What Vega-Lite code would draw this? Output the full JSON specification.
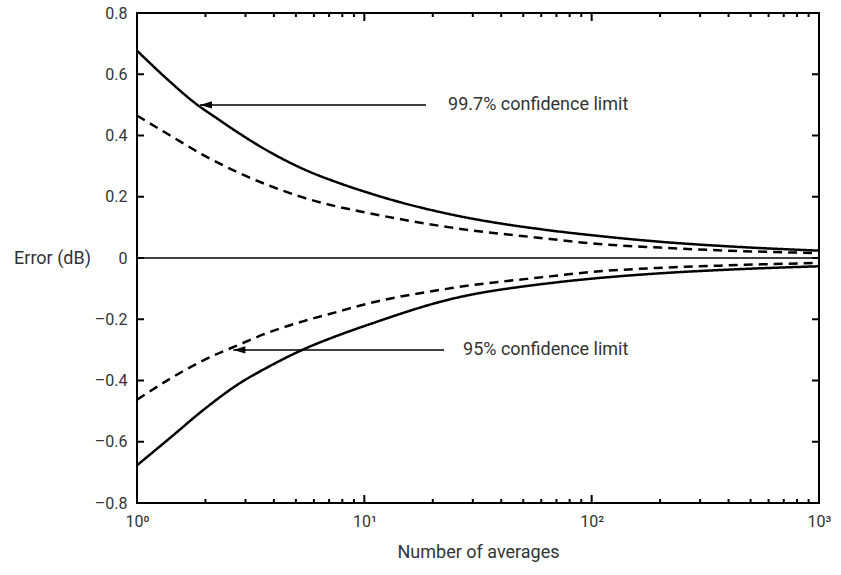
{
  "$schema": "https://vega.github.io/schema/vega-lite/v6.json",
  "width": 682,
  "height": 490,
  "autosize": {"type": "none"},
  "padding": {"left": 137, "top": 13, "right": 22, "bottom": 72},
  "background": "white",
  "config": {
    "font": "Roboto",
    "view": {"stroke": "black", "strokeWidth": 2},
    "axis": {"grid": false, "domain": false, "ticks": false, "tickSize": 0, "labelColor": "#333333", "titleColor": "#333333", "labelFont": "Roboto", "titleFont": "Roboto", "labelFontSize": 16, "titleFontSize": 18, "titleFontWeight": "normal"},
    "tick": {"color": "black", "opacity": 1, "thickness": 2}
  },
  "datasets": {
    "curves": [
      {"n": 1, "v": 0.677, "series": "u997", "conf": "99.7"},
      {"n": 1.4, "v": 0.575, "series": "u997", "conf": "99.7"},
      {"n": 1.75, "v": 0.513, "series": "u997", "conf": "99.7"},
      {"n": 2.32, "v": 0.449, "series": "u997", "conf": "99.7"},
      {"n": 2.75, "v": 0.412, "series": "u997", "conf": "99.7"},
      {"n": 3.86, "v": 0.345, "series": "u997", "conf": "99.7"},
      {"n": 5.41, "v": 0.29, "series": "u997", "conf": "99.7"},
      {"n": 7.59, "v": 0.247, "series": "u997", "conf": "99.7"},
      {"n": 10.3, "v": 0.214, "series": "u997", "conf": "99.7"},
      {"n": 14.4, "v": 0.182, "series": "u997", "conf": "99.7"},
      {"n": 23.8, "v": 0.143, "series": "u997", "conf": "99.7"},
      {"n": 65.6, "v": 0.09, "series": "u997", "conf": "99.7"},
      {"n": 98.4, "v": 0.075, "series": "u997", "conf": "99.7"},
      {"n": 200, "v": 0.053, "series": "u997", "conf": "99.7"},
      {"n": 400, "v": 0.038, "series": "u997", "conf": "99.7"},
      {"n": 1000, "v": 0.024, "series": "u997", "conf": "99.7"},
      {"n": 1, "v": -0.677, "series": "l997", "conf": "99.7"},
      {"n": 1.4, "v": -0.587, "series": "l997", "conf": "99.7"},
      {"n": 1.96, "v": -0.496, "series": "l997", "conf": "99.7"},
      {"n": 2.75, "v": -0.415, "series": "l997", "conf": "99.7"},
      {"n": 3.86, "v": -0.352, "series": "l997", "conf": "99.7"},
      {"n": 5.41, "v": -0.298, "series": "l997", "conf": "99.7"},
      {"n": 7.59, "v": -0.254, "series": "l997", "conf": "99.7"},
      {"n": 10.3, "v": -0.219, "series": "l997", "conf": "99.7"},
      {"n": 23.8, "v": -0.135, "series": "l997", "conf": "99.7"},
      {"n": 65.6, "v": -0.082, "series": "l997", "conf": "99.7"},
      {"n": 98.4, "v": -0.068, "series": "l997", "conf": "99.7"},
      {"n": 200, "v": -0.05, "series": "l997", "conf": "99.7"},
      {"n": 400, "v": -0.038, "series": "l997", "conf": "99.7"},
      {"n": 1000, "v": -0.027, "series": "l997", "conf": "99.7"},
      {"n": 1, "v": 0.465, "series": "u95", "conf": "95"},
      {"n": 1.4, "v": 0.4, "series": "u95", "conf": "95"},
      {"n": 1.96, "v": 0.336, "series": "u95", "conf": "95"},
      {"n": 2.75, "v": 0.281, "series": "u95", "conf": "95"},
      {"n": 3.86, "v": 0.235, "series": "u95", "conf": "95"},
      {"n": 5.41, "v": 0.197, "series": "u95", "conf": "95"},
      {"n": 7.59, "v": 0.168, "series": "u95", "conf": "95"},
      {"n": 9.6, "v": 0.152, "series": "u95", "conf": "95"},
      {"n": 23.8, "v": 0.1, "series": "u95", "conf": "95"},
      {"n": 65.6, "v": 0.062, "series": "u95", "conf": "95"},
      {"n": 98.4, "v": 0.048, "series": "u95", "conf": "95"},
      {"n": 200, "v": 0.034, "series": "u95", "conf": "95"},
      {"n": 400, "v": 0.024, "series": "u95", "conf": "95"},
      {"n": 1000, "v": 0.016, "series": "u95", "conf": "95"},
      {"n": 1, "v": -0.463, "series": "l95", "conf": "95"},
      {"n": 1.4, "v": -0.394, "series": "l95", "conf": "95"},
      {"n": 1.96, "v": -0.334, "series": "l95", "conf": "95"},
      {"n": 2.75, "v": -0.286, "series": "l95", "conf": "95"},
      {"n": 3.86, "v": -0.241, "series": "l95", "conf": "95"},
      {"n": 5.41, "v": -0.206, "series": "l95", "conf": "95"},
      {"n": 7.59, "v": -0.176, "series": "l95", "conf": "95"},
      {"n": 9.6, "v": -0.155, "series": "l95", "conf": "95"},
      {"n": 23.8, "v": -0.099, "series": "l95", "conf": "95"},
      {"n": 65.6, "v": -0.06, "series": "l95", "conf": "95"},
      {"n": 98.4, "v": -0.046, "series": "l95", "conf": "95"},
      {"n": 200, "v": -0.032, "series": "l95", "conf": "95"},
      {"n": 400, "v": -0.024, "series": "l95", "conf": "95"},
      {"n": 1000, "v": -0.016, "series": "l95", "conf": "95"}
    ],
    "zero": [{"n": 1, "v": 0}, {"n": 1000, "v": 0}],
    "arrows": [
      {"n1": 1.893, "n2": 18.67, "v": 0.5},
      {"n1": 2.653, "n2": 22.41, "v": -0.3}
    ],
    "labels": [
      {"n": 23.35, "v": 0.5, "text": "99.7% confidence limit"},
      {"n": 27.17, "v": -0.3, "text": "95% confidence limit"}
    ],
    "xmajor": [{"n": 1}, {"n": 10}, {"n": 100}, {"n": 1000}],
    "xminor": [{"n": 2}, {"n": 3}, {"n": 4}, {"n": 5}, {"n": 6}, {"n": 7}, {"n": 8}, {"n": 9},
      {"n": 20}, {"n": 30}, {"n": 40}, {"n": 50}, {"n": 60}, {"n": 70}, {"n": 80}, {"n": 90},
      {"n": 200}, {"n": 300}, {"n": 400}, {"n": 500}, {"n": 600}, {"n": 700}, {"n": 800}, {"n": 900}],
    "yticks": [{"v": -0.8}, {"v": -0.6}, {"v": -0.4}, {"v": -0.2}, {"v": 0}, {"v": 0.2}, {"v": 0.4}, {"v": 0.6}, {"v": 0.8}]
  },
  "layer": [
    {
      "data": {"name": "curves"},
      "mark": {"type": "line", "interpolate": "monotone", "strokeWidth": 2.5, "color": "black"},
      "encoding": {
        "x": {"field": "n", "type": "quantitative",
          "scale": {"type": "log", "domain": [1, 1000], "nice": false},
          "axis": {"orient": "bottom", "title": "Number of averages",
            "values": [1, 10, 100, 1000],
            "labelExpr": "datum.value == 1 ? '10⁰' : datum.value == 10 ? '10¹' : datum.value == 100 ? '10²' : '10³'",
            "labelFlush": false, "labelOverlap": false, "labelPadding": 10, "titlePadding": 14}},
        "y": {"field": "v", "type": "quantitative",
          "scale": {"domain": [-0.8, 0.8], "nice": false, "zero": false},
          "axis": {"orient": "left", "title": "Error (dB)",
            "values": [-0.8,-0.6,-0.4,-0.2,0,0.2,0.4,0.6,0.8],
            "labelExpr": "datum.value == 0 ? '0' : replace(format(datum.value, '.1f'), '−', '–')",
            "labelPadding": 10,
            "titleAngle": 0, "titleX": -85, "titleY": 245, "titleAlign": "center", "titleBaseline": "middle"}},
        "detail": {"field": "series"},
        "strokeDash": {"field": "conf", "type": "nominal", "scale": {"domain": ["99.7", "95"], "range": [[1, 0], [9, 6]]}, "legend": null}
      }
    },
    {
      "data": {"name": "zero"},
      "mark": {"type": "line", "strokeWidth": 1.5, "color": "black"},
      "encoding": {
        "x": {"field": "n", "type": "quantitative"},
        "y": {"field": "v", "type": "quantitative"}
      }
    },
    {
      "data": {"name": "arrows"},
      "mark": {"type": "rule", "strokeWidth": 1.5, "color": "black"},
      "encoding": {
        "x": {"field": "n1", "type": "quantitative"},
        "x2": {"field": "n2"},
        "y": {"field": "v", "type": "quantitative"}
      }
    },
    {
      "data": {"name": "arrows"},
      "mark": {"type": "point", "filled": true, "opacity": 1, "color": "black", "shape": "M 0 0 L 2 -0.6 L 2 0.6 Z", "size": 144},
      "encoding": {
        "x": {"field": "n1", "type": "quantitative"},
        "y": {"field": "v", "type": "quantitative"}
      }
    },
    {
      "data": {"name": "labels"},
      "mark": {"type": "text", "align": "left", "baseline": "middle", "fontSize": 18, "color": "#333333", "font": "Roboto"},
      "encoding": {
        "x": {"field": "n", "type": "quantitative"},
        "y": {"field": "v", "type": "quantitative"},
        "text": {"field": "text"}
      }
    },
    {
      "data": {"name": "xmajor"},
      "mark": {"type": "tick", "orient": "vertical", "size": 8, "yOffset": -4},
      "encoding": {
        "x": {"field": "n", "type": "quantitative"},
        "y": {"datum": -0.8, "type": "quantitative"}
      }
    },
    {
      "data": {"name": "xmajor"},
      "mark": {"type": "tick", "orient": "vertical", "size": 8, "yOffset": 4},
      "encoding": {
        "x": {"field": "n", "type": "quantitative"},
        "y": {"datum": 0.8, "type": "quantitative"}
      }
    },
    {
      "data": {"name": "xminor"},
      "mark": {"type": "tick", "orient": "vertical", "size": 4, "yOffset": -2},
      "encoding": {
        "x": {"field": "n", "type": "quantitative"},
        "y": {"datum": -0.8, "type": "quantitative"}
      }
    },
    {
      "data": {"name": "xminor"},
      "mark": {"type": "tick", "orient": "vertical", "size": 4, "yOffset": 2},
      "encoding": {
        "x": {"field": "n", "type": "quantitative"},
        "y": {"datum": 0.8, "type": "quantitative"}
      }
    },
    {
      "data": {"name": "yticks"},
      "mark": {"type": "tick", "orient": "horizontal", "size": 7, "xOffset": 3.5},
      "encoding": {
        "y": {"field": "v", "type": "quantitative"},
        "x": {"datum": 1, "type": "quantitative"}
      }
    },
    {
      "data": {"name": "yticks"},
      "mark": {"type": "tick", "orient": "horizontal", "size": 7, "xOffset": -3.5},
      "encoding": {
        "y": {"field": "v", "type": "quantitative"},
        "x": {"datum": 1000, "type": "quantitative"}
      }
    }
  ]
}
